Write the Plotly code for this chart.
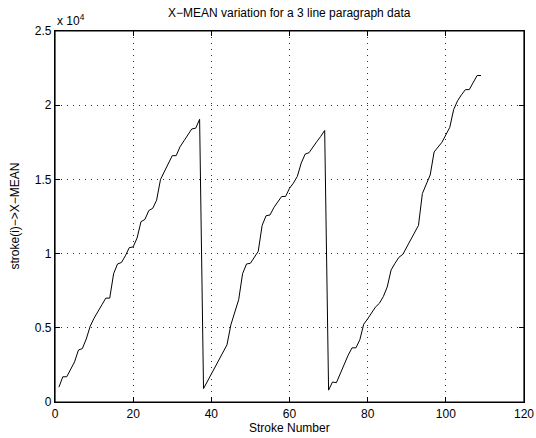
import plotly.graph_objects as go

stroke_number = list(range(1, 110))

x_mean = [
    # line 1 (strokes 1-37)
    1000, 1700, 1700, 2200, 2700, 3500, 3600, 4250, 5100, 5650,
    6150, 6550, 7000, 7000, 8650, 9300, 9400, 9850, 10400, 10450,
    11050, 12150, 12300, 12900, 13050, 13600, 15000, 15500, 16050, 16600,
    16600, 17200, 17600, 18000, 18400, 18450, 19050,
    # line 2 (strokes 38-69)
    900, 1400, 1900, 2350, 2850, 3350, 3850, 5200, 6100, 6900,
    8650, 9300, 9350, 9750, 10150, 11900, 12550, 12600, 13100, 13480,
    13850, 13850, 14400, 14750, 15200, 16100, 16700, 16800, 17200, 17550,
    17900, 18300,
    # line 3 (strokes 70-109)
    800, 1350, 1300, 1900, 2600, 3150, 3650, 3650, 4200, 5250,
    5600, 6000, 6400, 6650, 7100, 7750, 8900, 9350, 9750, 9950,
    10450, 10900, 11400, 11900, 14050, 14700, 15300, 16850, 17200, 17500,
    18000, 18500, 19700, 20300, 20700, 21050, 21050, 21550, 22000, 22000,
]

x_ticks = [0, 20, 40, 60, 80, 100, 120]
y_ticks = [0, 5000, 10000, 15000, 20000, 25000]
y_tick_labels = ["0", "0.5", "1", "1.5", "2", "2.5"]

title_text = "X\u2212MEAN variation for a 3 line paragraph data"
x_label = "Stroke Number"
y_label = "stroke(i)\u2212>X\u2212MEAN"

font_family = "Liberation Sans, Arial, Helvetica, sans-serif"
L, R, T, B = 55, 12, 31, 36
W, H = 536, 438

fig = go.Figure()
fig.add_trace(go.Scatter(
    x=stroke_number, y=x_mean, mode="lines",
    line=dict(color="black", width=1),
    showlegend=False, hoverinfo="skip",
))

axis_common = dict(
    showline=True, linecolor="black", linewidth=1.2, mirror="ticks",
    ticks="inside", ticklen=5, tickcolor="black", tickwidth=1,
    showgrid=True, gridcolor="#333333", gridwidth=1, griddash="1px,5px",
    zeroline=False, automargin=False,
    tickfont=dict(family=font_family, size=12, color="black"),
)

fig.update_layout(
    width=W, height=H,
    margin=dict(l=L, r=R, t=T, b=B, autoexpand=False),
    paper_bgcolor="white", plot_bgcolor="white",
    font=dict(family=font_family, size=12, color="black"),
    xaxis=dict(range=[0, 120], tickvals=x_ticks, **axis_common),
    yaxis=dict(range=[0, 25000], tickvals=y_ticks, ticktext=y_tick_labels,
               **axis_common),
    shapes=[dict(type="rect", xref="paper", yref="paper", x0=0, y0=0,
                 x1=1, y1=1, line=dict(color="black", width=1.2),
                 fillcolor="rgba(0,0,0,0)", layer="above")],
    annotations=[
        dict(text="x 10<sup>4</sup>", xref="paper", yref="paper",
             x=0, y=1, xanchor="left", yanchor="bottom", showarrow=False,
             yshift=1, font=dict(family=font_family, size=12, color="black")),
        dict(text=title_text, xref="paper", yref="paper",
             x=0.5, y=1, xanchor="center", yanchor="bottom", showarrow=False,
             yshift=9, font=dict(family=font_family, size=12, color="black")),
        dict(text=x_label, xref="paper", yref="paper",
             x=0.5, y=0, xanchor="center", yanchor="top", showarrow=False,
             yshift=-17, font=dict(family=font_family, size=12, color="black")),
        dict(text=y_label, xref="paper", yref="paper", textangle=-90,
             x=0, y=0.5, xanchor="right", yanchor="middle", showarrow=False,
             xshift=-32, font=dict(family=font_family, size=12, color="black")),
    ],
)

fig.write_html("out.html",
               config={"displayModeBar": False, "staticPlot": True},
               post_script="document.body.style.margin='0';"
                           "document.body.style.padding='0';")
